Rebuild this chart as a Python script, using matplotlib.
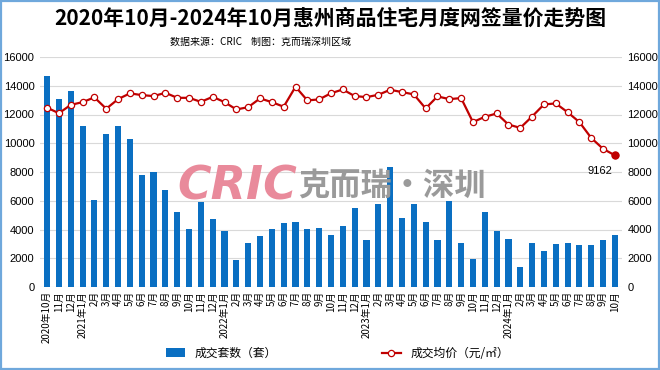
import numpy as np
import matplotlib.pyplot as plt
from matplotlib.patches import Rectangle

plt.rcParams['font.family'] = ['Noto Sans CJK SC', 'DejaVu Sans']

months = ["2020年10月", "11月", "12月",
          "2021年1月", "2月", "3月", "4月", "5月", "6月", "7月", "8月", "9月", "10月", "11月", "12月",
          "2022年1月", "2月", "3月", "4月", "5月", "6月", "7月", "8月", "9月", "10月", "11月", "12月",
          "2023年1月", "2月", "3月", "4月", "5月", "6月", "7月", "8月", "9月", "10月", "11月", "12月",
          "2024年1月", "2月", "3月", "4月", "5月", "6月", "7月", "8月", "9月", "10月"]

# 成交套数（套）
volume = [14650, 13090, 13650,
          11210, 6050, 10670, 11210, 10300, 7790, 8020, 6770, 5210, 4050, 5880, 4720,
          3910, 1880, 3070, 3530, 4050, 4420, 4510, 4050, 4120, 3650, 4230, 5490,
          3260, 5770, 8370, 4810, 5770, 4530, 3280, 5980, 3050, 1980, 5190, 3930,
          3330, 1420, 3070, 2490, 3000, 3090, 2950, 2930, 3280, 3600]

# 成交均价（元/㎡）
price = [12470, 12090, 12670,
         12860, 13190, 12400, 13070, 13470, 13350, 13280, 13510, 13160, 13160, 12880, 13230,
         12860, 12350, 12510, 13120, 12860, 12540, 13930, 12980, 13050, 13480, 13740, 13280,
         13210, 13370, 13720, 13560, 13400, 12420, 13260, 13070, 13140, 11470, 11840, 12070,
         11300, 11070, 11860, 12700, 12770, 12160, 11470, 10370, 9610, 9162]

bar_color = "#0A6FC2"
line_color = "#C00000"

fig = plt.figure(figsize=(6.6, 3.7), dpi=100)
ax = fig.add_axes([40 / 660, 1 - 287 / 370, 582 / 660, 230 / 370])
ax2 = ax.twinx()

x = np.arange(len(months))
bars = ax.bar(x, volume, width=0.52, color=bar_color, zorder=2, label="成交套数（套）")
line, = ax2.plot(x, price, color=line_color, lw=1.6, marker="o", ms=4.5,
                 mfc="white", mec=line_color, mew=0.9, zorder=3, label="成交均价（元/㎡）")
ax2.plot(x[-1], price[-1], marker="o", ms=5, color=line_color, zorder=4)
ax2.annotate(f"{price[-1]}", (x[-1], price[-1]), xytext=(-11, -11),
             textcoords="offset points", ha="center", va="center", fontsize=8,
             family=["Liberation Sans", "DejaVu Sans"])

for a in (ax, ax2):
    a.set_ylim(0, 16000)
    a.set_yticks(range(0, 16001, 2000))
    a.tick_params(axis="y", length=0, labelsize=8, pad=4)
    for lbl in a.get_yticklabels():
        lbl.set_family(["Liberation Sans", "DejaVu Sans"])
    for s in a.spines.values():
        s.set_visible(False)
ax.set_xlim(-0.6, len(months) - 0.4)
ax.grid(axis="y", color="#D9D9D9", lw=0.8, zorder=0)
ax.set_axisbelow(True)
ax.set_xticks(x)
ax.set_xticklabels(months, rotation=90, fontsize=7, va="top")
ax.tick_params(axis="x", length=0, pad=3)

# watermark
fig.text(0.268, 0.495, "CRIC", color="#E98A9B", fontsize=33, fontweight="heavy",
         fontstyle="italic", family="DejaVu Sans", ha="left", va="center", zorder=10)
fig.text(0.452, 0.495, "克而瑞·深圳", color="#9A9A9A", fontsize=22.5, fontweight="bold",
         ha="left", va="center", zorder=10)

fig.text(0.5, 0.952, "2020年10月-2024年10月惠州商品住宅月度网签量价走势图",
         ha="center", va="center", fontsize=15, fontweight="heavy")
fig.text(0.395, 0.886, "数据来源：CRIC    制图：克而瑞深圳区域",
         ha="center", va="center", fontsize=7.2)

fig.legend(handles=[bars], loc="center", bbox_to_anchor=(0.335, 0.045),
           frameon=False, fontsize=8.5, handlelength=1.6, handleheight=0.8)
fig.legend(handles=[line], loc="center", bbox_to_anchor=(0.675, 0.045),
           frameon=False, fontsize=8.5, handlelength=1.6)

fig.patches.append(Rectangle((0.002, 0.004), 0.996, 0.992, transform=fig.transFigure,
                             fill=False, ec="#6FA8DC", lw=1.6))

fig.savefig("out.png", dpi=100)
